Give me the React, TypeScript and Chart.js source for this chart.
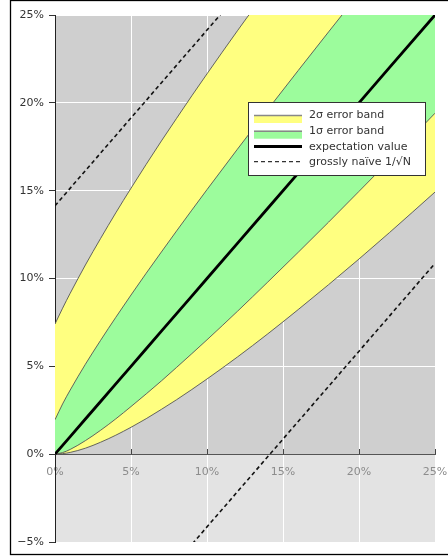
import React, { useEffect, useRef } from "react";
import { Chart, registerables } from "chart.js";

Chart.register(...registerables);

// true proportion p (%), sample size N = 50
const P = [0, 0.5, 1, 2, 3, 4, 5, 6, 7, 8, 9, 10, 12, 14, 16, 18, 20, 22, 25];
const EXPECT = [0, 0.5, 1, 2, 3, 4, 5, 6, 7, 8, 9, 10, 12, 14, 16, 18, 20, 22, 25];
const UPPER_1S = [1.96, 2.86, 3.65, 5.12, 6.48, 7.79, 9.06, 10.3, 11.51, 12.71, 13.89, 15.06, 17.36, 19.62, 21.84, 24.04, 26.22, 28.38, 31.57];
const LOWER_1S = [0, 0.09, 0.27, 0.77, 1.36, 2.01, 2.71, 3.43, 4.17, 4.94, 5.72, 6.51, 8.13, 9.8, 11.49, 13.21, 14.96, 16.72, 19.41];
const UPPER_2S = [7.41, 8.31, 9.16, 10.77, 12.28, 13.74, 15.14, 16.5, 17.83, 19.12, 20.4, 21.65, 24.1, 26.48, 28.81, 31.09, 33.33, 35.54, 38.78];
const LOWER_2S = [0, 0.03, 0.1, 0.34, 0.68, 1.08, 1.53, 2.02, 2.55, 3.1, 3.68, 4.28, 5.53, 6.85, 8.23, 9.65, 11.11, 12.61, 14.92];
const NAIVE_X = [0, 25];
const NAIVE_UPPER = [14.14, 39.14];
const NAIVE_LOWER = [-14.14, 10.86];

const X_MIN = 0;
const X_MAX = 25;
const Y_MIN = -5;
const Y_MAX = 25;
const TICK_STEP = 5;

const LEGEND_LABELS = ["2σ error band", "1σ error band", "expectation value", "grossly naïve 1/√N"];

const FONT = "'DejaVu Sans', sans-serif";
const YELLOW = "#ffff80";
const GREEN = "#9cfc9c";
const EDGE = "#555555";

export default function App() {
  const ref = useRef<HTMLCanvasElement | null>(null);

  useEffect(() => {
    document.body.style.margin = "0";
    const canvas = ref.current!;
    const pts = (xs: number[], ys: number[]) => xs.map((x, i) => ({ x, y: ys[i] }));

    const decor = {
      id: "decor",
      beforeDraw(chart: any) {
        const { ctx, chartArea } = chart;
        const y0 = chart.scales.y.getPixelForValue(0);
        ctx.save();
        ctx.fillStyle = "#cfcfcf";
        ctx.fillRect(chartArea.left, chartArea.top, chartArea.right - chartArea.left, y0 - chartArea.top);
        ctx.fillStyle = "#e3e3e3";
        ctx.fillRect(chartArea.left, y0, chartArea.right - chartArea.left, chartArea.bottom - y0);
        ctx.restore();
      },
      afterDraw(chart: any) {
        const { ctx } = chart;
        ctx.save();
        // figure frame
        ctx.strokeStyle = "#000";
        ctx.lineWidth = 1.3;
        ctx.strokeRect(10.5, 0.5, 450, 554);
        // legend
        const bx = 248.5, by = 102.5, bw = 177, bh = 73;
        ctx.fillStyle = "#fff";
        ctx.fillRect(bx, by, bw, bh);
        ctx.strokeStyle = "#333";
        ctx.lineWidth = 1;
        ctx.strokeRect(bx, by, bw, bh);
        const sx0 = 254, sx1 = 302;
        const rows = [115, 130.7, 146.5, 161.7];
        [[YELLOW, rows[0]], [GREEN, rows[1]]].forEach(([c, y]: any) => {
          ctx.fillStyle = c;
          ctx.fillRect(sx0, y, sx1 - sx0, 8);
          ctx.strokeStyle = "#888";
          ctx.lineWidth = 1.5;
          ctx.beginPath();
          ctx.moveTo(sx0, y + 0.5);
          ctx.lineTo(sx1, y + 0.5);
          ctx.stroke();
        });
        ctx.strokeStyle = "#000";
        ctx.lineWidth = 3;
        ctx.beginPath();
        ctx.moveTo(sx0, rows[2]);
        ctx.lineTo(sx1, rows[2]);
        ctx.stroke();
        ctx.strokeStyle = "#333";
        ctx.lineWidth = 1.3;
        ctx.setLineDash([4, 3]);
        ctx.beginPath();
        ctx.moveTo(sx0, rows[3]);
        ctx.lineTo(sx1, rows[3]);
        ctx.stroke();
        ctx.setLineDash([]);
        ctx.fillStyle = "#333";
        ctx.font = `11px ${FONT}`;
        ctx.textBaseline = "middle";
        ctx.textAlign = "left";
        LEGEND_LABELS.forEach((t, i) => ctx.fillText(t, 309, rows[i] + 0.5));
        ctx.restore();
      },
    };

    const chart = new Chart(canvas, {
      type: "line",
      data: {
        datasets: [
          { label: LEGEND_LABELS[3], data: pts(NAIVE_X, NAIVE_UPPER), borderColor: "#111", borderWidth: 1.6, borderDash: [4, 3], pointRadius: 0, fill: false },
          { label: LEGEND_LABELS[3], data: pts(NAIVE_X, NAIVE_LOWER), borderColor: "#111", borderWidth: 1.6, borderDash: [4, 3], pointRadius: 0, fill: false },
          { label: LEGEND_LABELS[2], data: pts(P, EXPECT), borderColor: "#000", borderWidth: 2.8, pointRadius: 0, fill: false },
          { label: LEGEND_LABELS[1], data: pts(P, UPPER_1S), borderColor: EDGE, borderWidth: 0.9, backgroundColor: GREEN, pointRadius: 0, fill: "+1", cubicInterpolationMode: "monotone" },
          { label: LEGEND_LABELS[1], data: pts(P, LOWER_1S), borderColor: EDGE, borderWidth: 0.9, pointRadius: 0, fill: false, cubicInterpolationMode: "monotone" },
          { label: LEGEND_LABELS[0], data: pts(P, UPPER_2S), borderColor: EDGE, borderWidth: 0.9, backgroundColor: YELLOW, pointRadius: 0, fill: "+1", cubicInterpolationMode: "monotone" },
          { label: LEGEND_LABELS[0], data: pts(P, LOWER_2S), borderColor: EDGE, borderWidth: 0.9, pointRadius: 0, fill: false, cubicInterpolationMode: "monotone" },
        ],
      } as any,
      options: {
        animation: false,
        responsive: false,
        devicePixelRatio: 1,
        layout: { padding: { left: 10, top: 15, right: 13, bottom: 14 } },
        plugins: {
          legend: { display: false },
          tooltip: { enabled: false },
          filler: { drawTime: "beforeDatasetsDraw" },
        } as any,
        scales: {
          x: {
            type: "linear",
            min: X_MIN,
            max: X_MAX,
            position: { y: 0 } as any,
            afterFit: (s: any) => { s.paddingLeft = 0; s.paddingRight = 0; s.height = 0; },
            ticks: {
              stepSize: TICK_STEP,
              color: "#8c8c8c",
              font: { family: FONT, size: 11 },
              padding: 17,
              maxRotation: 0,
              callback: (v: any) => `${v}%`,
            },
            grid: { color: "#ffffff", lineWidth: 1, tickColor: "#444", tickLength: -6 },
            border: { color: "#555", width: 1 },
          },
          y: {
            type: "linear",
            min: Y_MIN,
            max: Y_MAX,
            position: "left",
            afterFit: (s: any) => { s.width = 45; s.paddingTop = 0; s.paddingBottom = 0; },
            ticks: {
              stepSize: TICK_STEP,
              color: "#333",
              font: { family: FONT, size: 11 },
              padding: 5,
              callback: (v: any) => (v < 0 ? `\u2212${Math.abs(v)}%` : `${v}%`),
            },
            grid: { color: "#ffffff", lineWidth: 1, tickColor: "#333", tickLength: 6 },
            border: { color: "#222", width: 1 },
          },
        } as any,
      },
      plugins: [decor],
    });
    return () => chart.destroy();
  }, []);

  return <canvas ref={ref} width={448} height={556} style={{ display: "block", width: 448, height: 556 }} />;
}
